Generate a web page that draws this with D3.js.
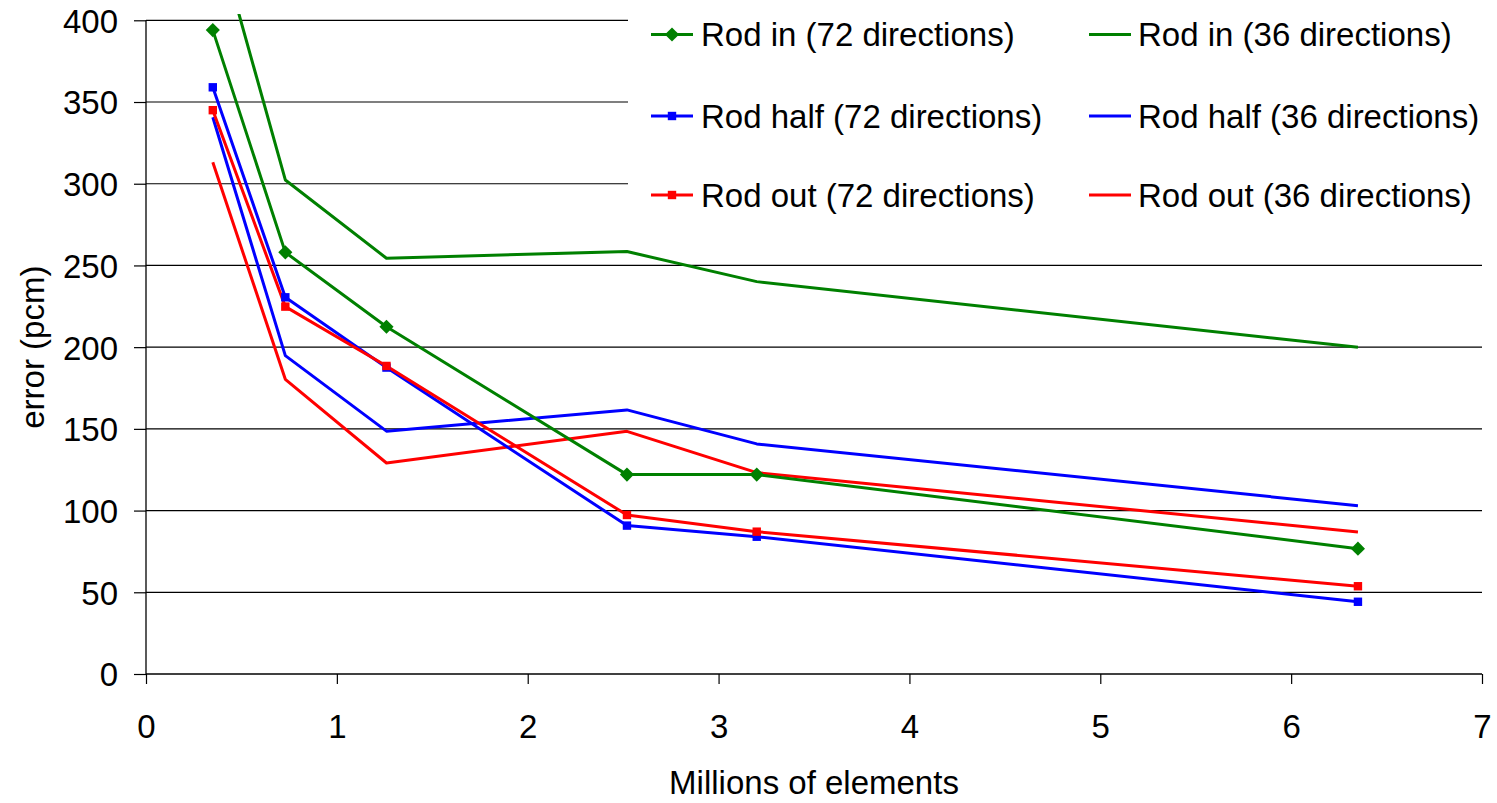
<!DOCTYPE html>
<html>
<head>
<meta charset="utf-8">
<script src="https://cdn.jsdelivr.net/npm/d3@7"></script>
<style>
  html, body { margin: 0; padding: 0; background: #fff; }
  svg { display: block; }
  text { font-family: "Liberation Sans", Arial, sans-serif; fill: #000; }
</style>
</head>
<body>
<svg id="chart" width="1497" height="803"></svg>
<script>
// ---- data ----
const xValues = [0.35, 0.73, 1.26, 2.52, 3.2, 6.35];
const rodIn72   = [394, 258, 212.5, 122, 122, 76.7];
const rodHalf72 = [359, 230.5, 187.5, 90.8, 84, 44.2];
const rodOut72  = [345, 224.8, 188.5, 97.3, 87.1, 53.7];
const rodIn36   = [461, 302.3, 254.4, 258.5, 240.1, 199.9];
const rodHalf36 = [340.7, 194.8, 148.6, 161.6, 140.8, 103];
const rodOut36  = [313.1, 180.3, 129.1, 148.5, 123.2, 86.9];
const xTicks = [0, 1, 2, 3, 4, 5, 6, 7];
const yTicks = [0, 50, 100, 150, 200, 250, 300, 350, 400];
const seriesNames = [
  "Rod in (72 directions)", "Rod half (72 directions)", "Rod out (72 directions)",
  "Rod in (36 directions)", "Rod half (36 directions)", "Rod out (36 directions)"
];

const series = [
  { name: seriesNames[0], values: rodIn72,   color: "#008000", marker: "diamond" },
  { name: seriesNames[1], values: rodHalf72, color: "#0000FF", marker: "square" },
  { name: seriesNames[2], values: rodOut72,  color: "#FF0000", marker: "square" },
  { name: seriesNames[3], values: rodIn36,   color: "#008000", marker: null },
  { name: seriesNames[4], values: rodHalf36, color: "#0000FF", marker: null },
  { name: seriesNames[5], values: rodOut36,  color: "#FF0000", marker: null }
];

const svg = d3.select("#chart");
const pLeft = 146, pRight = 1482, pTop = 20.3, pBottom = 674;
const x = d3.scaleLinear().domain([0, 7]).range([pLeft, pRight]);
const y = d3.scaleLinear().domain([0, 400]).range([pBottom, pTop]);
const fs = 33;

// gridlines
svg.append("g").selectAll("line").data(yTicks.filter(d => d > 0)).join("line")
  .attr("x1", pLeft).attr("x2", pRight)
  .attr("y1", d => y(d)).attr("y2", d => y(d))
  .attr("stroke", "#000").attr("stroke-width", 1.2);

// legend background (covers gridlines)
svg.append("rect").attr("x", 628).attr("y", 0).attr("width", pRight - 628 + 2).attr("height", 232)
  .attr("fill", "#fff");

// axes
const yAxis = d3.axisLeft(y).tickValues(yTicks).tickSize(12).tickPadding(16).tickFormat(d3.format("d"));
const gy = svg.append("g").attr("transform", `translate(${pLeft},0)`).call(yAxis);
gy.selectAll("text").style("font-size", fs + "px").attr("dy", "0.36em");

const xAxis = d3.axisBottom(x).tickValues(xTicks).tickSize(10).tickPadding(32).tickFormat(d3.format("d"));
const gx = svg.append("g").attr("transform", `translate(0,${pBottom})`).call(xAxis);
gx.selectAll("text").style("font-size", fs + "px").attr("dy", "0").attr("y", 64);

[gy, gx].forEach(g => {
  g.select(".domain").attr("stroke", "#000").attr("stroke-width", 1.3);
  g.selectAll(".tick line").attr("stroke", "#000").attr("stroke-width", 1.2);
  g.selectAll("text").style("font-family", '"Liberation Sans", Arial, sans-serif');
});
gx.select(".domain").attr("d", `M${pLeft},0H${pRight}`);
gy.select(".domain").attr("d", `M0,${pBottom}V${pTop}`);

// axis titles
svg.append("text").attr("x", (pLeft + pRight) / 2).attr("y", 794)
  .attr("text-anchor", "middle").style("font-size", fs + "px").text("Millions of elements");
svg.append("text").attr("transform", `translate(44,${(pTop + pBottom) / 2}) rotate(-90)`)
  .attr("text-anchor", "middle").style("font-size", fs + "px").text("error (pcm)");

// clip for lines
svg.append("clipPath").attr("id", "plotclip").append("rect")
  .attr("x", pLeft).attr("y", 14).attr("width", pRight - pLeft).attr("height", pBottom - 14);

const line = d3.line().x((d, i) => x(xValues[i])).y(d => y(d));
const gl = svg.append("g").attr("clip-path", "url(#plotclip)");
const order = [3, 4, 5, 0, 1, 2];
order.forEach(k => {
  const s = series[k];
  gl.append("path").datum(s.values).attr("d", line)
    .attr("fill", "none").attr("stroke", s.color).attr("stroke-width", 3)
    .attr("stroke-linejoin", "round");
});

function drawMarker(g, type, cx, cy, color) {
  if (type === "diamond") {
    g.append("path").attr("d", d3.symbol(d3.symbolSquare, 100)())
      .attr("transform", `translate(${cx},${cy}) rotate(45)`).attr("fill", color);
  } else if (type === "square") {
    g.append("rect").attr("x", cx - 4.2).attr("y", cy - 4.2).attr("width", 8.4).attr("height", 8.4)
      .attr("fill", color);
  }
}
const gm = svg.append("g");
[0, 1, 2].forEach(k => {
  const s = series[k];
  s.values.forEach((v, i) => drawMarker(gm, s.marker, x(xValues[i]), y(v), s.color));
});

// legend
const legRows = [34.5, 116, 195];
const legCols = [{ l1: 651, l2: 693, tx: 701 }, { l1: 1089, l2: 1131, tx: 1138 }];
const gleg = svg.append("g");
series.forEach((s, k) => {
  const col = legCols[k < 3 ? 0 : 1];
  const ry = legRows[k % 3];
  gleg.append("line").attr("x1", col.l1).attr("x2", col.l2).attr("y1", ry).attr("y2", ry)
    .attr("stroke", s.color).attr("stroke-width", 3);
  if (s.marker) drawMarker(gleg, s.marker, (col.l1 + col.l2) / 2, ry, s.color);
  gleg.append("text").attr("x", col.tx).attr("y", ry + 11.8)
    .style("font-size", fs + "px").text(s.name);
});
</script>
</body>
</html>
